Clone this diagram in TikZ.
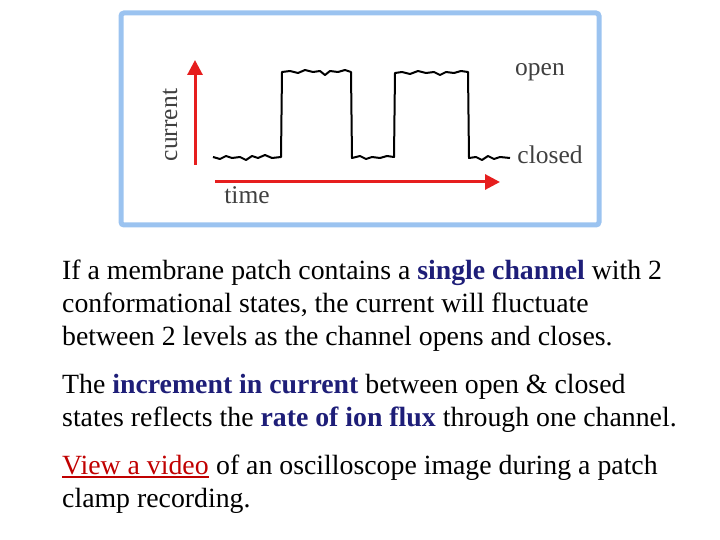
\documentclass[tikz,border=0pt]{standalone}
\usepackage{fontspec}
\setmainfont{Liberation Serif}
\usetikzlibrary{arrows.meta}
\definecolor{frameblue}{RGB}{155,195,240}
\definecolor{arrred}{RGB}{230,30,30}
\definecolor{kw}{RGB}{30,30,120}
\definecolor{lnk}{RGB}{192,0,0}
\begin{document}
\begin{tikzpicture}[x=1pt,y=-1pt,
  txt/.style={anchor=base west,inner sep=0pt,font=\fontsize{27.8}{33}\selectfont},
  lbl/.style={inner sep=0pt,font=\fontsize{25.5}{28}\selectfont,text=black!75}]
\useasboundingbox (0,0) rectangle (720,540);
\draw[frameblue,line width=5pt,rounded corners=3pt] (121,13) rectangle (599,225);
\coordinate (v0) at (195,165); \coordinate (v1) at (195,60);
\coordinate (h0) at (215,182); \coordinate (h1) at (500,182);
\draw[arrred,line width=3pt,-{Triangle[length=15pt,width=15pt]}] (v0) -- (v1);
\draw[arrred,line width=3pt,-{Triangle[length=15pt,width=15pt]}] (h0) -- (h1);
\node[lbl,rotate=90] (cur) at (170,125) {current};
\node[lbl] (tim) at (247,195) {time};
\node[lbl] (opn) at (540,72) {open};
\node[lbl] (cls) at (550,155) {closed};
\draw[black,line width=2pt,line join=round] (213,157) -- (220,159) -- (226,156) -- (232,158) -- (240,157) -- (246,160) -- (252,156) -- (258,158) -- (265,155) -- (272,158) -- (281,157)
 -- (282,72) -- (290,71) -- (298,73) -- (305,70) -- (313,72) -- (320,71) -- (325,75) -- (330,71) -- (338,72) -- (345,70) -- (351,72)
 -- (352,158) -- (360,156) -- (366,159) -- (372,157) -- (380,158) -- (387,156) -- (394,157)
 -- (395,73) -- (402,72) -- (410,74) -- (418,71) -- (426,73) -- (434,72) -- (440,75) -- (446,72) -- (454,73) -- (461,71) -- (468,72)
 -- (469,158) -- (476,157) -- (482,160) -- (488,156) -- (494,159) -- (500,157) -- (510,158);
\node[txt] (l1) at (62,279) {If a membrane patch contains a \textbf{\color{kw}single channel} with 2};
\node[txt] (l2) at (62,312) {conformational states, the current will fluctuate};
\node[txt] (l3) at (62,345) {between 2 levels as the channel opens and closes.};
\node[txt] (l4) at (62,393) {The \textbf{\color{kw}increment in current} between open \& closed};
\node[txt] (l5) at (62,426) {states reflects the \textbf{\color{kw}rate of ion flux} through one channel.};
\node[txt,text=lnk] (lk) at (62,474) {View a video};
\node[txt,anchor=base west] (l6) at (lk.base east) {\ of an oscilloscope image during a patch};
\draw[lnk,line width=1.2pt] ([yshift=-3pt]lk.base west) -- ([yshift=-3pt]lk.base east);
\node[txt] (l7) at (62,507) {clamp recording.};
\end{tikzpicture}
\end{document}
